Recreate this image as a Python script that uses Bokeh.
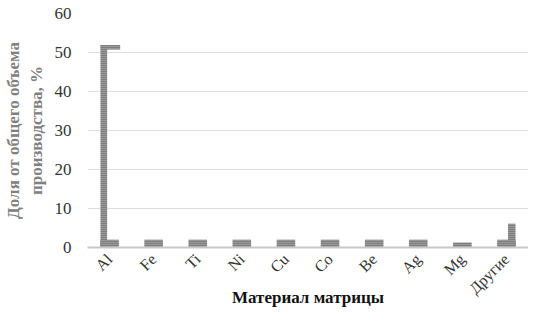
import math
from bokeh.plotting import figure
from bokeh.models import ColumnDataSource, FactorRange, Range1d, FixedTicker
from bokeh.transform import dodge
from bokeh.embed import file_html
from bokeh.resources import INLINE

categories = ['Al', 'Fe', 'Ti', 'Ni', 'Cu', 'Co', 'Be', 'Ag', 'Mg', 'Другие']
base_share = [2.0, 2.0, 2.0, 2.0, 2.0, 2.0, 2.0, 2.0, 1.3, 2.0]
al_tall = [51.9]
al_cap_low = [50.8]
other_tall = [6.1]
y_ticks = [0, 10, 20, 30, 40, 50, 60]
x_title = "Материал матрицы"
y_title = "Доля от общего объема\nпроизводства, %"

FONT = "Liberation Serif"

p = figure(x_range=FactorRange(*categories, range_padding=0),
           y_range=Range1d(0, 60),
           width=528, height=310,
           min_border_left=81, min_border_right=0,
           min_border_top=13, min_border_bottom=60,
           output_backend="svg", toolbar_location=None)

bar_style = dict(fill_color="#9a9a9a", line_color=None,
                 hatch_pattern="horizontal_line", hatch_color="#606060",
                 hatch_scale=2, hatch_weight=1)

src = ColumnDataSource(dict(x=categories, top=base_share))
p.vbar(x='x', top='top', bottom=0, width=0.42, source=src, **bar_style)

src_al = ColumnDataSource(dict(x=['Al'], top=al_tall, cap=al_cap_low))
p.vbar(x=dodge('x', -0.13, range=p.x_range), top='top', bottom=0, width=0.15,
       source=src_al, **bar_style)
p.vbar(x=dodge('x', 0.02, range=p.x_range), top='top', bottom='cap', width=0.44,
       source=src_al, **bar_style)

src_o = ColumnDataSource(dict(x=['Другие'], top=other_tall))
p.vbar(x=dodge('x', 0.12, range=p.x_range), top='top', bottom=0, width=0.17,
       source=src_o, **bar_style)

p.yaxis.ticker = FixedTicker(ticks=y_ticks)
p.ygrid.ticker = FixedTicker(ticks=y_ticks)
p.xgrid.grid_line_color = None
p.ygrid.grid_line_color = "#dedede"
p.outline_line_color = None

p.yaxis.axis_line_color = None
p.yaxis.major_tick_line_color = None
p.yaxis.minor_tick_line_color = None
p.yaxis.major_label_text_font = FONT
p.yaxis.major_label_text_font_size = "17px"
p.yaxis.major_label_text_color = "#333333"
p.yaxis.major_label_standoff = 10
p.yaxis.axis_label = y_title
p.yaxis.axis_label_text_font = FONT
p.yaxis.axis_label_text_font_size = "17px"
p.yaxis.axis_label_text_font_style = "bold"
p.yaxis.axis_label_text_color = "#808080"
p.yaxis.axis_label_standoff = 6

p.xaxis.axis_line_color = "#c8c8c8"
p.xaxis.axis_line_width = 2
p.xaxis.major_tick_line_color = None
p.xaxis.minor_tick_line_color = None
p.xaxis.major_label_orientation = math.pi / 4
p.xaxis.major_label_text_font = FONT
p.xaxis.major_label_text_font_size = "16px"
p.xaxis.major_label_text_color = "#333333"
p.xaxis.major_label_standoff = 3
p.xaxis.axis_label = x_title
p.xaxis.axis_label_text_font = FONT
p.xaxis.axis_label_text_font_size = "17px"
p.xaxis.axis_label_text_font_style = "bold"
p.xaxis.axis_label_text_color = "#111111"
p.xaxis.axis_label_standoff = -18

open("out.html", "w").write(file_html(p, INLINE))
